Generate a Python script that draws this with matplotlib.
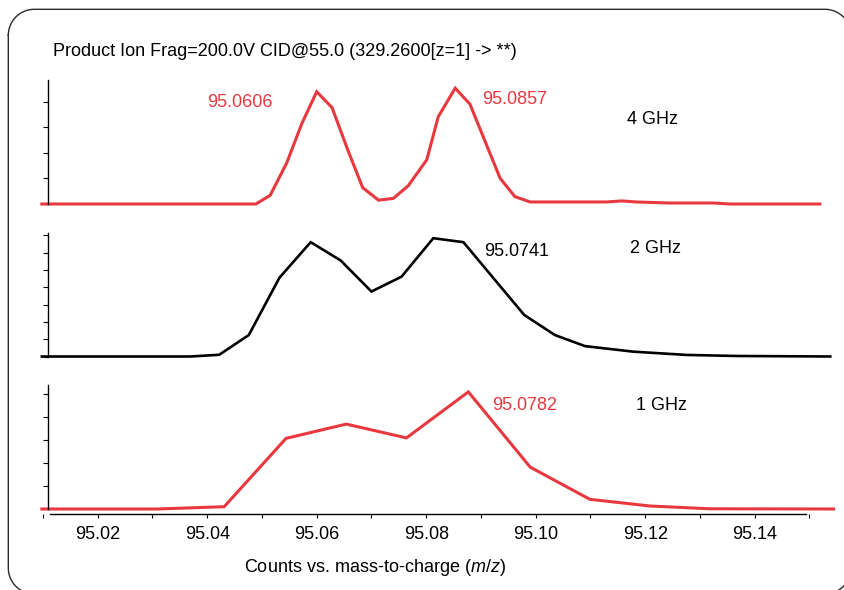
import matplotlib
matplotlib.use("Agg")
import numpy as np
import matplotlib.pyplot as plt
from matplotlib.ticker import MultipleLocator, NullFormatter

plt.rcParams['font.family'] = ['Liberation Sans', 'DejaVu Sans']
plt.rcParams['mathtext.fontset'] = 'custom'
plt.rcParams['mathtext.it'] = 'Liberation Sans:italic'
plt.rcParams['mathtext.rm'] = 'Liberation Sans'

RED = '#e8383f'
FS = 13

title = 'Product Ion Frag=200.0V CID@55.0 (329.2600[z=1] -> **)'
xlabel = 'Counts vs. mass-to-charge ($\\it{m/z}$)'

# 4 GHz spectrum (counts, arbitrary units)
mz_4g = [95.0098, 95.0489, 95.0515, 95.0545, 95.0573, 95.0600, 95.0628, 95.0658,
         95.0684, 95.0713, 95.0740, 95.0767, 95.0801, 95.0822, 95.0853, 95.0880,
         95.0935, 95.0962, 95.0990, 95.1130, 95.1157, 95.1184, 95.1242, 95.1324,
         95.1355, 95.1519]
cnt_4g = [0.0, 0.0, 0.34, 1.60, 3.16, 4.40, 3.78, 2.05,
          0.64, 0.15, 0.22, 0.71, 1.73, 3.42, 4.54, 3.91,
          1.01, 0.29, 0.08, 0.08, 0.12, 0.08, 0.04, 0.04,
          0.0, 0.0]

# 2 GHz spectrum
mz_2g = [95.0098, 95.0369, 95.0422, 95.0476, 95.0532, 95.0589, 95.0644, 95.0700,
         95.0755, 95.0813, 95.0868, 95.0979, 95.1035, 95.1090, 95.1178, 95.1276,
         95.1367, 95.1538]
cnt_2g = [0.0, 0.0, 0.10, 1.24, 4.55, 6.60, 5.54, 3.75,
          4.61, 6.83, 6.60, 2.40, 1.24, 0.60, 0.28, 0.09,
          0.03, 0.0]

# 1 GHz spectrum
mz_1g = [95.0098, 95.0308, 95.0431, 95.0544, 95.0654, 95.0764, 95.0877, 95.0990,
         95.1099, 95.1209, 95.1318, 95.1544]
cnt_1g = [0.0, 0.0, 0.10, 3.07, 3.69, 3.09, 5.09, 1.82,
          0.42, 0.13, 0.01, 0.0]

panels = [
    (mz_4g, cnt_4g, RED, 4.86, 4, [('95.0606', 95.0460, 3.96, 'center', RED),
                                  ('95.0857', 95.0902, 4.08, 'left', RED),
                                  ('4 GHz', 95.1214, 3.33, 'center', 'black')]),
    (mz_2g, cnt_2g, 'black', 7.13, 7, [('95.0741', 95.0906, 6.04, 'left', 'black'),
                                       ('2 GHz', 95.1218, 6.21, 'center', 'black')]),
    (mz_1g, cnt_1g, RED, 5.39, 5, [('95.0782', 95.0920, 4.52, 'left', RED),
                                  ('1 GHz', 95.1230, 4.48, 'center', 'black')]),
]

W, H = 844, 590
fig = plt.figure(figsize=(W / 100, H / 100), dpi=100)

# rounded frame around everything; background axes in pixel units (y down)
bg = fig.add_axes([0, 0, 1, 1])
bg.set_xlim(0, W)
bg.set_ylim(H, 0)
bg.set_autoscale_on(False)
bg.axis('off')
x0, y0, x1, y1, r = 8.3, 9.3, 851, 594, 26
t = np.linspace(0, np.pi / 2, 20)
fx = np.concatenate([x0 + r - r * np.cos(t), x1 - r + r * np.sin(t),
                     x1 - r + r * np.cos(t), x0 + r - r * np.sin(t), [x0]])
fy = np.concatenate([y0 + r - r * np.sin(t), y0 + r - r * np.cos(t),
                     y1 - r + r * np.sin(t), y1 - r + r * np.cos(t), [y0 + r]])
bg.plot(fx, fy, color='#2b2b2b', lw=1.0)

xlim = (95.00977, 95.15436)
left_px, right_px = 41.7, 833.3
boxes = [(80, 204), (233, 356.5), (385, 509)]

axes = []
for (mz, cnt, color, ytop, nt, labels), (top, bot) in zip(panels, boxes):
    ax = fig.add_axes([left_px / W, 1 - bot / H, (right_px - left_px) / W, (bot - top) / H])
    ax.patch.set_alpha(0)
    ax.plot(mz, cnt, color=color, lw=2.2 if color == RED else 1.9, clip_on=False,
            solid_joinstyle='miter')
    ax.set_xlim(*xlim)
    ax.set_ylim(0, ytop)
    for s in ['top', 'right', 'bottom']:
        ax.spines[s].set_visible(False)
    ax.spines['left'].set_position(('data', 95.01087))
    ax.spines['left'].set_linewidth(1.0)
    ax.set_yticks(range(nt + 1))
    ax.yaxis.set_major_formatter(NullFormatter())
    ax.tick_params(axis='y', direction='out', length=3.5, width=0.8)
    ax.set_xticks([])
    for txt, x, y, ha, c in labels:
        ax.text(x, y, txt, ha=ha, va='center', color=c, fontsize=FS)
    axes.append(ax)

# shared m/z axis under the bottom panel
ax = axes[-1]
ax.spines['bottom'].set_visible(True)
ax.spines['bottom'].set_position(('outward', 3.5))
ax.spines['bottom'].set_bounds(95.0113, 95.1494)
ax.spines['bottom'].set_linewidth(1.0)
ax.set_xticks([95.02, 95.04, 95.06, 95.08, 95.10, 95.12, 95.14])
ax.set_xticklabels(['95.02', '95.04', '95.06', '95.08', '95.10', '95.12', '95.14'])
ax.xaxis.set_minor_locator(MultipleLocator(0.01))
ax.tick_params(axis='x', which='both', direction='out', length=3, width=0.8,
               labelsize=FS, pad=6)

fig.text(53 / W, 1 - 52 / H, title, ha='left', va='center', fontsize=FS)
fig.text(374.5 / W, 1 - 567 / H, xlabel, ha='center', va='center', fontsize=FS)

fig.savefig('out.png', dpi=100)
